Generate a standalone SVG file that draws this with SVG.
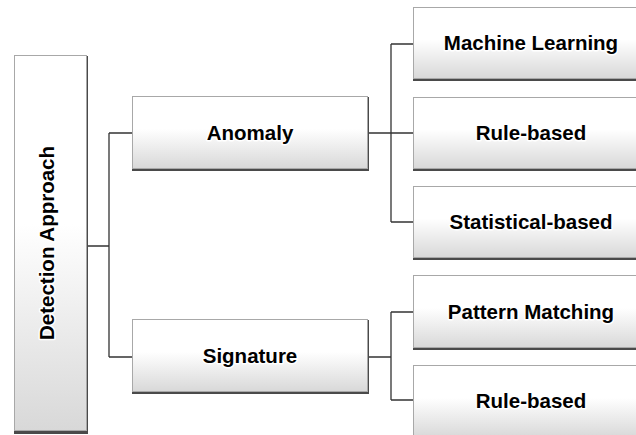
<svg xmlns="http://www.w3.org/2000/svg" width="636" height="435" viewBox="0 0 636 435">
  <defs>
    <linearGradient id="gv" x1="0" y1="0" x2="0" y2="1">
      <stop offset="0" stop-color="#ffffff"/>
      <stop offset="0.45" stop-color="#ffffff"/>
      <stop offset="1" stop-color="#d8d8d8"/>
    </linearGradient>
  </defs>
  <style>
    .shadow { fill: #4a4a4a; }
    .box { fill: url(#gv); stroke: #a8a8a8; stroke-width: 1; }
    .lbl { font-family: "Liberation Sans", Arial, sans-serif; font-weight: bold; font-size: 20.5px; fill: #000; text-anchor: middle; stroke: #ffffff; stroke-width: 3px; stroke-linejoin: round; paint-order: stroke; }
    .conn { fill: none; stroke: #333333; stroke-width: 1.3; }
  </style>

  <g id="connectors">
    <path class="conn" d="M87,246 H109 M109,133 V357 M109,133 H132 M109,357 H132"/>
    <path class="conn" d="M368,133 H391 M391,44 V222 M391,44 H413 M391,133 H413 M391,222 H413"/>
    <path class="conn" d="M368,357 H391 M391,312 V400 M391,312 H413 M391,400 H413"/>
  </g>

  <g id="detection-approach">
    <rect class="shadow" x="14" y="56" width="74" height="378"/>
    <rect class="box" x="14.5" y="55.5" width="72" height="375"/>
    <text class="lbl" transform="translate(54,243) rotate(-90)" x="0" y="0">Detection Approach</text>
  </g>

  <g id="anomaly">
    <rect class="shadow" x="132" y="97" width="237" height="74"/>
    <rect class="box" x="132.5" y="96.5" width="235" height="72"/>
    <text class="lbl" x="250" y="140">Anomaly</text>
  </g>

  <g id="signature">
    <rect class="shadow" x="132" y="320" width="237" height="74"/>
    <rect class="box" x="132.5" y="319.5" width="235" height="72"/>
    <text class="lbl" x="250" y="363">Signature</text>
  </g>

  <g id="machine-learning">
    <rect class="shadow" x="413" y="8" width="237" height="73"/>
    <rect class="box" x="413.5" y="7.5" width="235" height="71"/>
    <text class="lbl" x="531" y="50">Machine Learning</text>
  </g>

  <g id="rule-based-1">
    <rect class="shadow" x="413" y="98" width="237" height="73"/>
    <rect class="box" x="413.5" y="97.5" width="235" height="71"/>
    <text class="lbl" x="531" y="140">Rule-based</text>
  </g>

  <g id="statistical-based">
    <rect class="shadow" x="413" y="187" width="237" height="73"/>
    <rect class="box" x="413.5" y="186.5" width="235" height="71"/>
    <text class="lbl" x="531" y="229">Statistical-based</text>
  </g>

  <g id="pattern-matching">
    <rect class="shadow" x="413" y="276" width="237" height="74"/>
    <rect class="box" x="413.5" y="275.5" width="235" height="72"/>
    <text class="lbl" x="531" y="319">Pattern Matching</text>
  </g>

  <g id="rule-based-2">
    <rect class="shadow" x="413" y="366" width="237" height="74"/>
    <rect class="box" x="413.5" y="365.5" width="235" height="72"/>
    <text class="lbl" x="531" y="408">Rule-based</text>
  </g>
</svg>
